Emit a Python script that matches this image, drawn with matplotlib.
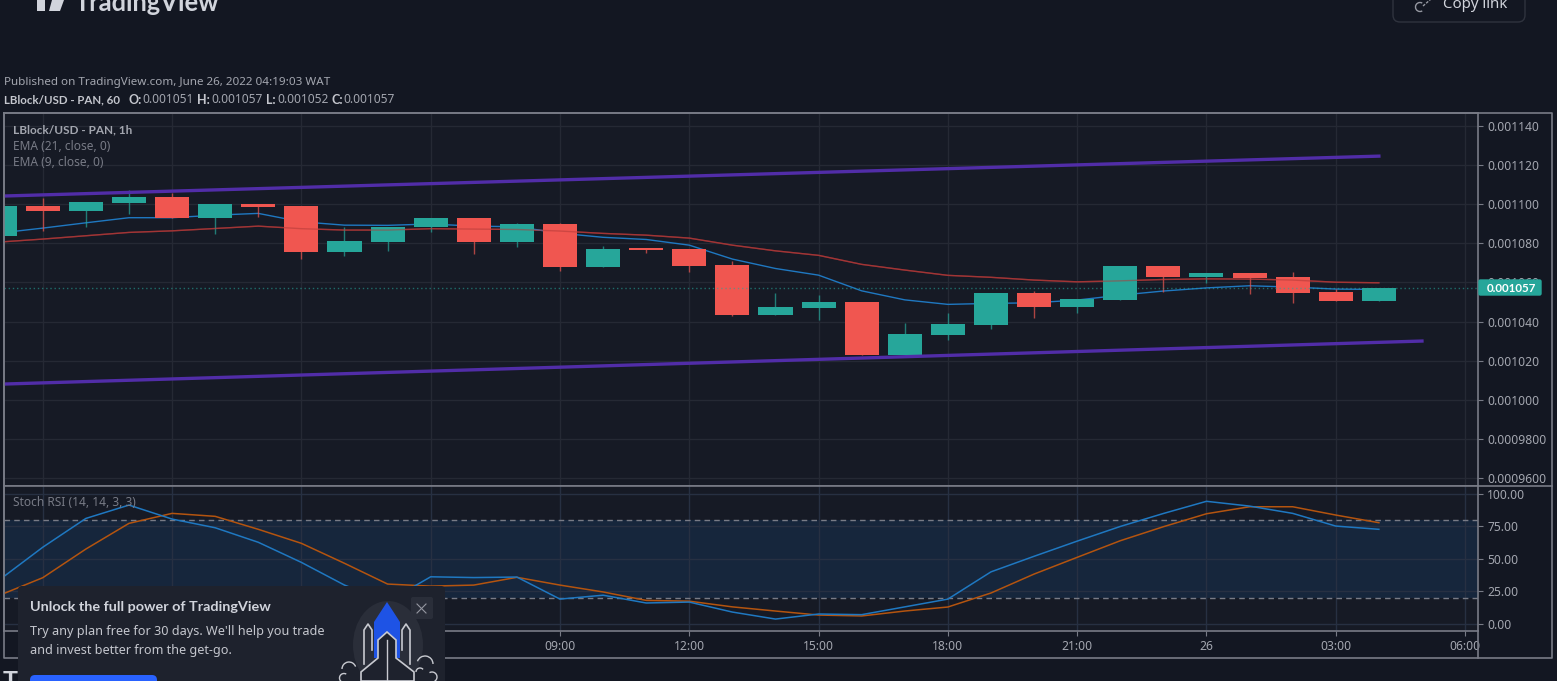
# -*- coding: utf-8 -*-
"""
LBlock/USD hourly chart with EMA lines and Stoch RSI

"""

# IMPORT STATEMENTS
import numpy as np
import matplotlib.pyplot as plt
from matplotlib.patches import FancyBboxPatch, Polygon, Ellipse, Arc

plt.rcParams['font.family'] = ['Noto Sans', 'DejaVu Sans']

# COLORS
bg_out = '#131722'
bg_pane = '#161a25'
grid_c = '#252934'
frame_c = '#787b86'
label_c = '#a3a6af'
up_c = '#26a69a'
down_c = '#f05650'

# CUSTOM FUNCTIONS
def draw_candles(hour, o, h, l, c):
# Draws the wicks and bodies of the candles on the current axes.
# Takes five parameters: the hours and the open, high, low and close arrays.
    for i in range(len(hour)):
        if c[i] >= o[i]:
            color = up_c
        else:
            color = down_c
        plt.vlines(hour[i], l[i], h[i], color=color, linewidth=1, alpha=0.7, zorder=3)
        plt.bar(hour[i], abs(c[i]-o[i]), bottom=min(o[i], c[i]), width=0.79, color=color, zorder=4)

def style_pane():
# Sets the colors of the current axes, shared by the price and the Stoch RSI panes.
    ax = plt.gca()
    ax.set_facecolor(bg_pane)
    for side in ax.spines:
        ax.spines[side].set_color(frame_c)
        ax.spines[side].set_linewidth(1.2)
    ax.yaxis.tick_right()
    plt.grid(True, color=grid_c, linewidth=1, zorder=0)
    plt.xlim(-3.9, 30.3)
    plt.xticks(time_ticks, time_labels)

def pane_rect(left, top, right, bottom):
# Turns a rectangle in pixels into the figure fractions that plt.axes wants.
    return [left/1557, 1-bottom/681, (right-left)/1557, (bottom-top)/681]

# MAIN SCRIPT

# hours counted from 25 June 00:00
hours = np.arange(-4, 29)
time_ticks = [-3, 0, 3, 6, 9, 12, 15, 18, 21, 24, 27, 30]
time_labels = ['', '', '', '', '09:00', '12:00', '15:00', '18:00', '21:00', '26', '03:00', '06:00'] # the first four lie under the popup

# candles, in millionths of a dollar
opens = np.array([1083.6, 1098.9, 1096.4, 1100.3, 1103.7, 1093.0, 1099.8, 1098.9, 1075.6, 1080.6, 1088.1, 1093.0,
                  1080.6, 1089.6, 1067.8, 1077.4, 1077.0, 1068.8, 1043.5, 1047.1, 1050.1, 1022.9, 1033.3, 1038.2,
                  1054.4, 1047.6, 1051.0, 1068.3, 1062.9, 1064.7, 1062.9, 1055.0, 1050.5])
closes = np.array([1098.9, 1096.4, 1100.8, 1103.7, 1093.0, 1099.8, 1098.4, 1075.6, 1081.1, 1088.4, 1093.0, 1080.6,
                   1089.6, 1067.8, 1077.1, 1076.6, 1068.3, 1043.5, 1047.6, 1050.1, 1022.9, 1033.8, 1038.7, 1054.4,
                   1047.6, 1051.5, 1068.3, 1062.9, 1064.7, 1062.3, 1054.5, 1050.5, 1057.4])
highs = np.array([1098.9, 1103.0, 1100.8, 1107.1, 1105.7, 1099.8, 1099.8, 1098.9, 1088.1, 1088.4, 1093.0, 1093.0,
                  1090.4, 1090.1, 1078.5, 1077.4, 1077.0, 1070.9, 1054.4, 1053.5, 1050.1, 1039.1, 1044.5, 1054.4,
                  1055.4, 1051.5, 1068.3, 1068.3, 1064.7, 1064.7, 1065.2, 1056.4, 1057.4])
lows = np.array([1083.6, 1086.2, 1088.4, 1094.9, 1093.0, 1084.6, 1093.5, 1071.7, 1073.6, 1076.1, 1085.8, 1074.3,
                 1078.2, 1065.9, 1067.8, 1074.8, 1065.4, 1043.0, 1043.5, 1040.8, 1022.9, 1022.9, 1030.7, 1036.2,
                 1042.1, 1044.2, 1051.0, 1055.2, 1059.5, 1054.0, 1049.6, 1050.5, 1050.5])

ema9 = [1085.2, 1087.7, 1090.4, 1093.0, 1093.0, 1094.3, 1095.2, 1090.9, 1089.2, 1089.1, 1089.8, 1088.7,
        1088.4, 1085.1, 1083.0, 1081.9, 1079.0, 1071.9, 1067.1, 1063.7, 1055.7, 1051.1, 1048.8, 1049.3,
        1049.6, 1051.0, 1053.5, 1055.6, 1057.2, 1058.3, 1057.6, 1056.6, 1056.4]
ema21 = [1080.6, 1082.1, 1083.8, 1085.5, 1086.3, 1087.5, 1088.7, 1087.4, 1086.7, 1086.7, 1087.4, 1087.2,
         1087.0, 1086.2, 1085.0, 1084.1, 1082.6, 1079.0, 1076.1, 1073.8, 1069.2, 1066.3, 1063.6, 1062.6,
         1061.2, 1060.3, 1060.8, 1061.5, 1061.8, 1061.7, 1061.2, 1060.1, 1059.8]

# Stoch RSI lines
stoch_k = [34, 59, 81.2, 91.5, 80.7, 74, 62.8, 47.3, 29.8, 17, 36.2, 35.6,
           36, 19, 22, 16, 16.7, 9, 3.6, 7.5, 7, 13, 19, 40,
           52, 63.7, 75, 85, 94.4, 90.7, 85.1, 75.3, 72.8]
stoch_d = [22, 35.5, 57.6, 77.4, 85.1, 82.8, 72.8, 62, 46.6, 30.6, 29, 29.8,
           35.8, 29.8, 24.5, 18, 17.4, 13, 9.8, 6.7, 6, 9.8, 12.9, 23.7,
           38.3, 51.2, 64, 74.8, 84.8, 90.2, 90.2, 83.8, 77.9]

price_ticks = [960, 980, 1000, 1020, 1040, 1060, 1080, 1100, 1120, 1140]
price_labels = ['0.0009600', '0.0009800', '0.001000', '0.001020', '0.001040', '0.001060', '0.001080', '0.001100', '0.001120', '0.001140']

fig = plt.figure(figsize=(15.57, 6.81), dpi=100, facecolor=bg_out)

# Price pane
plt.axes(pane_rect(4, 113, 1478, 486))
style_pane()
plt.plot(hours, ema21, color='#8e2f33', linewidth=1, zorder=2)
plt.plot(hours, ema9, color='#1f78c1', linewidth=1, zorder=2)
draw_candles(hours, opens, highs, lows, closes)
plt.plot(hours, ema21, color='#b23a38', linewidth=1, alpha=0.55, zorder=5)
plt.plot([-4, 28], [1104, 1124.4], color='#512da8', linewidth=2.4, zorder=6)
plt.plot([-4, 29], [1008.1, 1030.1], color='#512da8', linewidth=2.4, zorder=6)
plt.axhline(1057.4, color=up_c, linewidth=1, linestyle=(0, (1, 2)), alpha=0.6, zorder=5)
plt.ylim(956.17, 1146.4)
plt.yticks(price_ticks, price_labels, fontsize=8.7, color=label_c)
plt.tick_params(axis='x', length=0, labelbottom=False)
plt.tick_params(axis='y', length=3.5, color=frame_c, pad=3)

# Stoch RSI pane
plt.axes(pane_rect(4, 486, 1478, 631))
style_pane()
plt.axhspan(20, 80, color='#16263c', zorder=1, linewidth=0)
plt.axhline(80, color=frame_c, linewidth=1, linestyle=(0, (4, 3)), zorder=2)
plt.axhline(20, color=frame_c, linewidth=1, linestyle=(0, (4, 3)), zorder=2)
plt.grid(True, color='#273042', linewidth=1, zorder=2)
plt.plot(hours, stoch_d, color='#b4540f', linewidth=1.1, zorder=3)
plt.plot(hours, stoch_k, color='#1f78c1', linewidth=1.1, zorder=4)
plt.ylim(-5.6, 106.2)
plt.yticks([0, 25, 50, 75, 100], ['0.00', '25.00', '50.00', '75.00', '100.00'], fontsize=8.7, color=label_c)
plt.xticks(fontsize=8.7, color=label_c)
plt.tick_params(axis='x', length=3.5, color=frame_c, pad=3)
plt.tick_params(axis='y', length=3.5, color=frame_c, pad=3)

# Everything around the panes, in pixels
plt.axes([0, 0, 1, 1], facecolor='none', zorder=10)
ax = plt.gca()
plt.axis('off')
plt.xlim(0, 1557)
plt.ylim(681, 0)

# outer frame of the chart
plt.plot([4, 1552, 1552, 4, 4], [113, 113, 658, 658, 113], color=frame_c, linewidth=1.2)
plt.plot([1478, 1478], [631, 658], color=frame_c, linewidth=1.2)
plt.plot([1478, 1552], [486, 486], color=frame_c, linewidth=1.2)

# header texts
plt.text(4, 83, 'Published on TradingView.com, June 26, 2022 04:19:03 WAT', fontsize=8.4, color=label_c, va='center')
plt.text(4, 99.5, 'LBlock/USD - PAN, 60', fontsize=8.3, color='#c4c6cd', family='Lato', fontweight='bold', va='center')
for x, name, x2, value in [(129, 'O:', 142, '0.001051'), (197, 'H:', 211, '0.001057'),
                           (266, 'L:', 277, '0.001052'), (332, 'C:', 343, '0.001057')]:
    plt.text(x, 99.5, name, fontsize=9, color='#c4c6cd', family='Lato', fontweight='bold', va='center')
    plt.text(x2, 99.5, value, fontsize=8.6, color=label_c, va='center')

# legend of the panes
plt.text(13, 129.5, 'LBlock/USD - PAN, 1h', fontsize=8.5, color='#a3a6af', family='Lato', fontweight='bold', va='center')
plt.text(13, 146, 'EMA (21, close, 0)', fontsize=8.6, color=frame_c, va='center')
plt.text(13, 162.5, 'EMA (9, close, 0)', fontsize=8.6, color=frame_c, va='center')
plt.text(13, 502, 'Stoch RSI (14, 14, 3, 3)', fontsize=8.6, color=frame_c, va='center')

# tag of the last price
ax.add_patch(FancyBboxPatch((1479, 280), 62, 15, boxstyle='round,pad=0,rounding_size=1.5', facecolor=up_c, edgecolor=up_c, zorder=5))
plt.text(1487, 288, '0.001057', fontsize=8.4, color='white', family='Lato', fontweight='bold', va='center', zorder=6)

# logo and link button, cut by the top of the page
ax.add_patch(Polygon([[37, 0], [45, 0], [45, 11], [37, 11]], facecolor='#d1d4dc', edgecolor='none'))
ax.add_patch(Polygon([[52, 0], [64, 0], [60, 11], [49, 11]], facecolor='#d1d4dc', edgecolor='none'))
plt.text(75, 11, 'TradingView', fontsize=18.4, color='#d1d4dc', family='Lato', fontweight='bold', va='baseline')
ax.add_patch(FancyBboxPatch((1393, -20), 132, 42, boxstyle='round,pad=0,rounding_size=7', facecolor='none', edgecolor='#2f333e', linewidth=1))
plt.text(1443, 8.5, 'Copy link', fontsize=10.8, color='#d1d4dc', va='baseline')
ax.add_patch(Arc((1420, 7), 9, 9, theta1=60, theta2=300, edgecolor='#9598a1', linewidth=1))
plt.plot([1423, 1431], [6, -1], color='#9598a1', linewidth=1, linestyle=(0, (2, 1)))

# cut off heading under the chart
plt.text(3, 689, 'T', fontsize=18, color='#d1d4dc', family='Lato', fontweight='bold', va='baseline')

# upgrade popup
ax.add_patch(FancyBboxPatch((18, 586), 427, 110, boxstyle='round,pad=0,rounding_size=4', facecolor='#1e222d', edgecolor='none', zorder=7))
plt.text(30, 607, 'Unlock the full power of TradingView', fontsize=10.4, color='#d1d4dc', family='Lato', fontweight='bold', va='center', zorder=8)
plt.text(30, 631.5, "Try any plan free for 30 days. We'll help you trade", fontsize=9.1, color='#c4c6cd', va='center', zorder=8)
plt.text(30, 650.5, 'and invest better from the get-go.', fontsize=9.1, color='#c4c6cd', va='center', zorder=8)
ax.add_patch(FancyBboxPatch((30, 675), 127, 20, boxstyle='round,pad=0,rounding_size=5', facecolor='#2962ff', edgecolor='none', zorder=8))

# close button of the popup
ax.add_patch(FancyBboxPatch((411, 597), 22, 22, boxstyle='round,pad=0,rounding_size=2', facecolor='#2a2e39', edgecolor='none', zorder=8))
plt.plot([417, 426], [604, 613], color='#9598a1', linewidth=0.8, zorder=9)
plt.plot([417, 426], [613, 604], color='#9598a1', linewidth=0.8, zorder=9)

# rocket of the popup
ax.add_patch(Ellipse((388, 645), 70, 88, facecolor='#2a2e39', edgecolor='none', zorder=8))
ax.add_patch(Polygon([[374, 658], [374, 622], [387, 602], [400, 622], [400, 658]], facecolor='#1e53e5', edgecolor='none', zorder=8))
ax.add_patch(Polygon([[361, 681], [361, 672], [378, 658], [378, 640], [387, 632], [396, 640], [396, 658], [414, 672], [414, 681]],
                     facecolor='#1e222d', edgecolor='#c8cad0', linewidth=1.2, zorder=9))
plt.plot([364, 364, 368, 372, 372], [664, 630, 624, 630, 650], color='#c8cad0', linewidth=1.2, zorder=9)
plt.plot([402, 402, 406, 410, 410], [650, 630, 624, 630, 664], color='#c8cad0', linewidth=1.2, zorder=9)
plt.plot([387, 387], [640, 681], color='#c8cad0', linewidth=1, zorder=9)
for x, y, size, start, stop in [(349, 669, 14, 180, 340), (344, 678, 9, 120, 300), (425, 664, 16, 200, 360),
                                (432, 677, 10, 240, 60), (420, 672, 8, 180, 320)]:
    ax.add_patch(Arc((x, y), size, size, theta1=start, theta2=stop, edgecolor='#c8cad0', linewidth=1, zorder=9))

plt.savefig('out.png', dpi=100, facecolor=fig.get_facecolor())
